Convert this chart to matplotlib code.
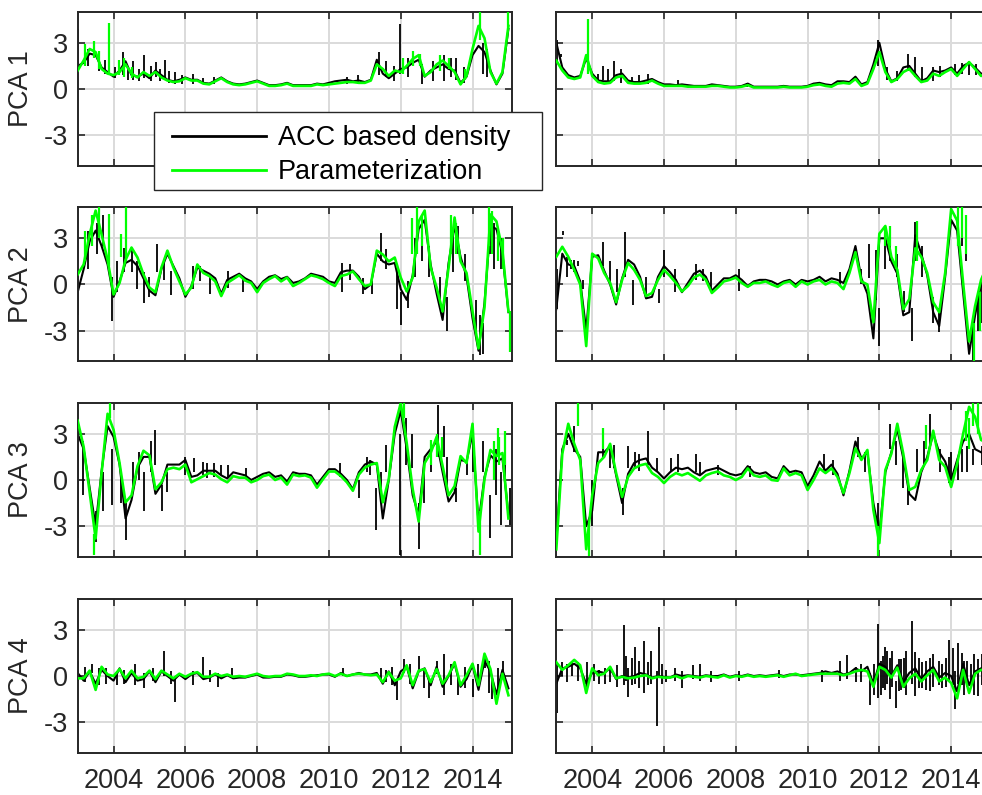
import numpy as np
import matplotlib
matplotlib.use('Agg')
import matplotlib.pyplot as plt
from matplotlib.lines import Line2D
from matplotlib.patches import Rectangle

plt.rcParams['font.family'] = ['Liberation Sans', 'DejaVu Sans']

# sample times: one value every two months, 2003.0 .. 2015.0
t = 2003 + np.arange(73) / 6.0

tick_years = [2004, 2006, 2008, 2010, 2012, 2014]
y_ticks = [-3, 0, 3]
row_names = ['PCA 1', 'PCA 2', 'PCA 3', 'PCA 4']
series_names = ['ACC based density', 'Parameterization']

# ---- PCA 1 ----
acc_1L = [1.5,1.7,2.3,2.2,1.4,1.1,0.8,1.2,1.8,0.9,
          0.8,1.0,0.7,1.2,0.9,0.6,0.5,0.6,0.75,0.6,
          0.6,0.4,0.35,0.55,0.75,0.5,0.35,0.3,0.35,0.45,
          0.55,0.4,0.25,0.25,0.3,0.4,0.25,0.25,0.25,0.25,
          0.35,0.3,0.4,0.5,0.55,0.6,0.5,0.55,0.45,0.6,
          1.9,1.0,0.7,1.0,1.3,1.4,1.7,1.9,0.8,1.2,
          1.4,1.6,1.3,1.2,0.4,0.8,2.2,2.8,2.4,1.2,
          0.3,1.0,3.9]
par_1L = [1.2,1.85,2.6,2.4,1.3,1.0,0.9,1.1,1.6,1.0,
          0.75,1.1,0.85,1.1,0.75,0.55,0.45,0.5,0.7,0.55,
          0.55,0.35,0.3,0.5,0.7,0.45,0.3,0.25,0.3,0.4,
          0.5,0.35,0.2,0.2,0.25,0.35,0.2,0.2,0.2,0.2,
          0.3,0.25,0.3,0.35,0.4,0.45,0.45,0.4,0.4,0.55,
          1.6,1.3,0.85,1.2,1.1,1.5,1.95,2.2,0.85,1.1,
          1.6,1.85,1.5,1.1,0.3,0.85,2.6,4.1,3.3,1.1,
          0.35,1.1,4.1]
# spikes: (year, low, high)
spk_acc_1L = [(2003.02,1.2,3.9),(2003.3,1.5,2.6),(2003.6,1.2,2.2),(2003.75,1.0,1.9),
              (2004.05,0.7,1.4),(2004.25,0.9,2.4),(2004.4,0.6,1.5),(2004.55,0.6,1.8),
              (2004.7,0.5,1.3),(2004.85,0.7,2.2),(2005.05,0.5,1.5),(2005.18,0.8,1.75),
              (2005.3,0.5,1.3),(2005.43,0.6,1.9),(2005.55,0.4,1.2),(2005.7,0.3,1.1),
              (2005.9,0.3,0.9),(2006.2,0.3,1.0),(2006.5,0.3,0.7),(2006.8,0.3,0.8),
              (2010.5,0.3,0.8),(2010.8,0.3,0.9),(2011.4,0.9,2.4),(2011.6,0.8,1.8),
              (2011.8,0.5,1.5),(2011.98,1.0,4.2),(2012.2,0.8,2.0),(2012.6,0.3,1.6),
              (2012.9,0.5,1.8),(2013.2,0.5,2.2),(2013.4,0.8,2.0),(2013.55,0.6,2.0),
              (2013.75,0.4,1.4),(2014.3,1.0,3.0),(2014.4,0.8,2.6)]
spk_par_1L = [(2003.2,1.5,2.9),(2003.45,2.0,3.1),(2003.6,1.3,2.5),(2003.87,1.0,4.3),
              (2004.15,0.9,1.9),(2004.3,0.8,2.0),(2004.5,0.7,1.4),(2012.05,1.0,2.0),
              (2012.35,1.5,2.5),(2012.55,1.5,2.3),(2013.1,1.2,2.2),(2013.35,1.3,2.0),
              (2013.8,0.6,1.3),(2014.2,3.2,5.0),(2015.0,4.0,5.0)]

acc_1R = [3.0,1.4,0.9,0.75,0.85,2.0,1.0,0.55,0.5,0.5,
          0.9,1.0,0.55,0.45,0.45,0.55,0.65,0.45,0.3,0.3,
          0.25,0.3,0.25,0.2,0.2,0.2,0.3,0.25,0.2,0.15,
          0.15,0.2,0.35,0.15,0.15,0.15,0.15,0.15,0.2,0.15,
          0.15,0.15,0.2,0.35,0.4,0.3,0.25,0.5,0.5,0.45,
          0.8,0.3,0.45,1.6,3.0,1.3,0.5,0.7,1.4,1.5,
          1.0,0.5,0.7,1.2,1.1,1.2,1.4,1.0,1.5,1.7,
          1.4,1.0,1.0]
par_1R = [1.85,1.2,0.75,0.65,0.75,2.2,0.85,0.45,0.35,0.4,
          0.75,0.85,0.4,0.35,0.35,0.4,0.55,0.35,0.2,0.2,
          0.2,0.2,0.15,0.15,0.15,0.15,0.2,0.2,0.15,0.1,
          0.1,0.15,0.25,0.1,0.1,0.1,0.1,0.1,0.15,0.1,
          0.1,0.1,0.15,0.25,0.3,0.2,0.15,0.35,0.4,0.35,
          0.65,0.2,0.35,1.3,2.4,1.1,0.45,0.65,1.1,1.3,
          0.85,0.45,0.55,1.0,0.85,1.1,1.3,0.85,1.3,1.75,
          1.3,0.85,0.9]
spk_acc_1R = [(2003.02,1.8,3.2),(2003.12,2.1,2.3),(2004.15,0.4,1.0),(2004.3,0.6,1.5),
              (2004.45,0.4,1.3),(2004.6,0.5,1.8),(2004.8,0.4,1.3),(2005.1,0.3,0.8),
              (2005.3,0.3,0.9),(2005.55,0.3,1.0),(2006.4,0.2,0.6),(2008.3,0.1,0.4),
              (2011.95,1.5,3.2),(2012.2,0.6,1.4),(2012.5,0.5,1.2),(2012.8,1.2,2.3),
              (2013.0,0.8,2.05),(2013.2,0.6,1.4),(2013.5,0.5,1.4),(2013.7,0.8,1.5),
              (2014.1,0.9,1.6),(2014.3,1.0,1.7),(2014.5,0.9,1.8),(2014.7,0.9,1.6)]
spk_par_1R = [(2003.87,1.0,4.55)]

# ---- PCA 2 ----
acc_2L = [-0.5,1.0,2.8,3.5,2.5,1.3,-0.8,0.2,1.4,1.6,
          1.2,0.4,-0.4,-0.7,1.0,2.0,1.2,0.4,-0.8,-0.1,
          1.1,0.9,0.7,0.4,-0.6,0.3,0.5,0.7,0.4,0.2,
          -0.3,0.2,0.5,0.6,0.35,0.5,0.1,0.2,0.4,0.7,
          0.6,0.5,0.2,0.1,0.8,0.9,0.9,0.5,-0.3,0.0,
          2.0,1.5,1.3,1.4,-0.3,-1.0,0.6,3.6,4.2,1.3,
          -0.6,-2.3,1.4,3.8,1.8,0.5,-2.2,-4.3,-1.2,3.8,
          3.6,2.0,-1.8]
par_2L = [0.65,1.3,3.25,4.8,3.25,1.6,-0.65,0.1,1.6,2.4,
          1.75,0.65,-0.2,-0.5,1.1,2.2,1.1,0.2,-0.65,-0.2,
          1.3,0.75,0.55,0.2,-0.75,0.1,0.35,0.6,0.25,0.1,
          -0.5,0.1,0.35,0.55,0.2,0.45,-0.1,0.1,0.35,0.6,
          0.5,0.35,0.1,-0.1,0.55,0.65,0.85,0.35,-0.1,0.0,
          2.2,1.95,1.5,1.75,0.45,-0.45,0.45,4.1,4.8,1.1,
          -0.2,-1.75,1.1,4.35,1.5,0.75,-1.75,-4.15,-1.5,4.55,
          4.1,2.2,-1.75]
spk_acc_2L = [(2003.02,-2.0,0.6),(2003.3,1.0,3.5),(2003.55,2.0,4.0),(2003.7,2.5,4.5),
              (2003.95,-2.4,0.5),(2004.1,-0.5,1.5),(2004.3,0.8,2.4),(2004.5,0.8,2.3),
              (2004.65,-0.3,1.5),(2004.85,-1.2,0.8),(2005.0,-0.8,0.5),(2005.2,0.8,2.65),
              (2005.4,0.3,1.6),(2005.6,-0.7,0.9),(2006.2,-0.3,1.2),(2006.4,0.2,1.2),
              (2006.7,-0.6,0.7),(2007.2,-0.2,0.9),(2007.6,-0.5,0.5),(2010.35,-0.5,1.4),
              (2010.6,0.3,1.3),(2010.95,-0.6,0.4),(2011.2,-0.6,0.2),(2011.45,1.5,3.35),
              (2011.6,1.0,2.3),(2011.9,-1.6,1.0),(2012.0,-2.6,-0.5),(2012.2,-1.5,0.2),
              (2012.4,0.5,3.0),(2012.6,1.5,3.5),(2012.8,0.5,2.5),(2013.1,-1.0,0.5),
              (2013.3,-3.0,-0.8),(2013.45,0.8,3.5),(2013.6,2.0,3.8),(2013.8,0.2,2.0),
              (2014.1,-3.5,-1.0),(2014.2,-4.6,-2.0),(2014.3,-4.5,-2.5),(2014.5,2.0,4.5),
              (2014.6,1.0,4.0),(2014.8,1.0,3.0)]
spk_par_2L = [(2003.2,1.5,3.5),(2003.4,2.5,4.5),(2003.6,3.0,5.0),(2003.87,1.2,4.6),
              (2004.2,1.8,3.3),(2004.35,1.5,5.0),(2012.3,2.0,4.3),(2012.45,2.0,5.0),
              (2012.6,2.5,4.5),(2013.4,2.0,4.5),(2013.55,2.0,4.0),(2014.45,2.5,5.0),
              (2014.55,2.0,4.8),(2014.7,1.5,3.5),(2014.85,1.0,3.0),(2015.05,-4.4,-1.75)]

acc_2R = [-1.6,2.0,1.3,1.2,0.2,-3.0,1.8,1.9,0.9,0.0,
          -1.3,0.4,1.6,1.3,0.5,-0.9,-0.8,0.5,1.2,0.8,
          0.3,-0.5,0.1,0.7,0.9,0.5,-0.4,0.0,0.4,0.4,
          0.6,0.3,-0.1,0.2,0.3,0.3,0.2,0.0,0.2,0.3,
          0.0,0.3,0.2,0.3,0.5,0.2,0.4,0.3,0.1,1.0,
          2.5,0.4,-0.6,-3.5,3.0,3.0,1.5,0.7,-2.0,-1.8,
          3.2,2.0,0.6,-1.8,-2.7,0.5,4.2,3.5,-0.5,-4.5,
          -2.0,0.0,1.0]
par_2R = [1.8,2.45,1.8,0.95,0.0,-4.0,2.0,1.7,0.75,0.1,
          -1.15,0.3,1.4,0.95,0.3,-0.75,-0.55,0.3,0.95,0.55,
          0.1,-0.45,-0.1,0.45,0.65,0.3,-0.55,-0.2,0.2,0.3,
          0.45,0.1,-0.15,0.1,0.1,0.2,0.0,-0.15,0.1,0.2,
          -0.15,0.2,0.0,0.2,0.3,0.0,0.2,0.1,-0.3,0.75,
          2.1,0.2,0.0,-2.45,3.3,3.8,1.8,0.95,-1.6,-0.95,
          2.35,1.8,0.75,-1.15,-1.8,0.75,4.9,4.15,0.1,-3.7,
          -1.4,0.3,1.2]
spk_acc_2R = [(2003.02,-1.6,1.0),(2003.2,3.2,3.5),(2003.3,0.5,1.8),(2003.4,1.0,1.6),
              (2003.5,0.8,1.6),(2003.6,1.2,1.5),(2003.75,-0.3,0.3),(2004.3,1.2,2.75),
              (2004.5,0.0,1.5),(2004.7,-0.5,1.0),(2004.9,0.5,3.4),(2005.15,-1.3,0.3),
              (2005.5,-0.8,0.5),(2005.85,-1.2,-0.3),(2006.0,0.5,2.25),(2006.3,-0.5,1.0),
              (2006.9,0.3,1.3),(2007.1,0.2,1.0),(2007.3,-0.3,0.8),(2008.1,-0.4,1.0),
              (2010.9,-0.1,0.8),(2011.5,0.0,1.0),(2011.7,0.4,2.65),(2011.9,-1.0,2.25),
              (2012.0,-4.0,-1.5),(2012.15,1.0,3.2),(2012.3,1.5,3.5),(2012.5,0.5,2.0),
              (2012.7,-1.8,-0.4),(2012.9,-3.7,-1.5),(2013.0,1.5,4.05),(2013.2,0.5,2.5),
              (2013.5,-2.5,-0.8),(2013.65,-3.1,-1.5),(2014.3,2.5,4.5),(2014.4,1.5,4.0),
              (2014.6,-5.0,-2.5),(2014.75,-3.0,-0.5),(2014.85,-2.5,0.0)]
spk_par_2R = [(2012.15,2.5,3.8),(2012.3,2.5,3.8),(2012.45,1.0,2.5),(2013.05,1.5,4.1),
              (2014.2,2.5,5.0),(2014.3,3.0,5.0),(2014.4,2.0,4.5),(2014.65,-5.0,-2.5),
              (2014.8,-3.0,-0.5)]

# ---- PCA 3 ----
acc_3L = [3.0,2.0,-0.5,-3.0,0.6,3.5,2.8,1.0,-2.5,-1.3,
          0.8,1.5,1.5,-0.9,-0.3,1.0,1.0,1.0,1.3,0.2,
          0.3,0.6,0.6,0.6,0.3,0.1,0.5,0.4,0.3,0.0,
          0.2,0.4,0.5,0.2,0.3,-0.1,0.5,0.4,0.4,0.3,
          -0.3,0.2,0.7,0.7,0.4,0.0,-0.6,0.5,1.0,1.2,
          1.0,-2.5,0.0,3.0,4.5,2.0,-1.0,-2.3,1.5,2.0,
          2.5,0.5,-1.4,-0.8,1.3,1.2,3.0,-2.8,0.2,1.6,
          1.2,1.4,-2.2]
par_3L = [3.85,2.15,-0.8,-3.8,0.45,4.3,3.25,1.1,-1.45,-1.0,
          0.9,1.9,1.6,-0.6,-0.15,0.7,0.8,0.7,1.0,-0.15,
          0.05,0.25,0.45,0.35,0.05,-0.15,0.25,0.15,0.15,-0.15,
          0.0,0.25,0.35,0.0,0.15,-0.3,0.35,0.25,0.3,0.15,
          -0.5,0.05,0.55,0.55,0.25,-0.15,-0.7,0.35,0.8,1.0,
          1.1,-1.45,0.05,3.45,5.0,2.4,-0.6,-2.7,1.1,1.75,
          2.8,0.9,-1.0,-0.4,1.55,1.1,3.65,-3.35,0.05,1.95,
          1.55,1.75,-2.5]
spk_acc_3L = [(2003.02,-3.8,3.0),(2003.15,-1.0,2.5),(2003.5,-4.0,-2.0),(2003.7,-2.0,0.5),
              (2003.95,-1.65,2.0),(2004.2,-1.5,0.5),(2004.35,-3.9,-1.5),(2004.55,-0.5,1.2),
              (2004.7,0.0,1.8),(2004.85,-2.0,0.5),(2005.05,0.5,2.5),(2005.15,1.0,3.25),
              (2005.35,-2.0,-0.3),(2005.5,-0.8,0.5),(2006.0,0.3,1.5),(2006.25,0.5,1.4),
              (2006.5,0.3,1.2),(2006.6,0.1,1.1),(2006.8,0.2,1.1),(2007.0,0.3,1.0),
              (2007.2,0.1,1.0),(2007.7,0.1,0.8),(2010.3,0.2,1.1),(2010.85,-1.2,0.0),
              (2011.05,0.5,1.5),(2011.15,0.3,1.3),(2011.3,-3.25,-0.5),(2011.45,-1.5,0.5),
              (2011.6,0.5,2.3),(2011.98,-4.9,3.0),(2012.15,1.0,4.0),(2012.3,0.8,3.0),
              (2012.5,-4.5,-1.5),(2012.65,-1.5,1.0),(2012.85,0.5,2.0),(2013.05,1.5,4.9),
              (2013.2,1.5,3.5),(2013.3,-0.5,1.5),(2013.55,-1.4,-0.5),(2013.85,0.3,1.2),
              (2014.0,0.5,3.5),(2014.3,0.5,2.5),(2014.5,-3.8,-1.0),(2014.65,-1.0,2.0),
              (2014.8,-2.95,0.5),(2014.9,0.0,2.0),(2015.05,-2.9,-0.5)]
spk_par_3L = [(2003.45,-4.9,-3.5),(2003.9,4.0,5.0),(2012.1,4.0,5.0),(2012.85,1.0,2.6),
              (2013.0,1.5,3.0),(2013.15,1.5,2.8),(2014.2,-4.9,-2.0),(2014.6,0.0,2.5),
              (2014.7,1.5,3.4),(2014.75,1.0,2.8),(2014.9,1.0,3.2)]

acc_3R = [-4.0,2.0,3.0,2.0,1.5,-3.0,-2.0,1.8,1.8,2.2,
          0.3,-1.5,0.4,1.1,1.3,1.4,0.8,0.5,0.1,0.5,
          0.8,0.7,0.8,0.5,0.3,0.6,0.7,0.8,0.6,0.4,
          0.3,0.4,0.9,0.5,0.4,0.5,0.2,0.1,0.9,0.5,
          0.6,0.5,-0.4,0.3,1.2,0.6,1.0,0.4,-1.0,0.6,
          2.5,1.4,1.8,-1.5,-3.5,0.5,1.8,3.3,1.4,-0.9,
          -1.3,0.5,1.5,3.0,1.8,1.2,0.0,1.3,2.5,3.0,
          2.0,1.8,1.7]
par_3R = [-4.5,1.7,3.65,2.35,1.3,-4.5,-1.0,1.1,1.5,2.35,
          0.45,-1.1,0.2,0.75,0.95,1.05,0.45,0.2,-0.2,0.2,
          0.45,0.3,0.45,0.2,-0.05,0.3,0.45,0.55,0.3,0.2,
          0.0,0.2,0.75,0.3,0.2,0.3,0.0,-0.05,0.75,0.3,
          0.45,0.3,-0.65,0.0,0.75,0.45,0.75,0.2,-0.85,0.45,
          2.05,1.3,1.95,-1.95,-4.1,0.65,1.7,3.65,1.7,-0.65,
          -0.45,0.65,1.3,3.2,1.3,0.85,-0.45,1.05,3.0,4.75,
          4.1,2.6,2.4]
spk_acc_3R = [(2003.3,2.3,2.6),(2003.5,1.8,3.5),(2004.0,-3.0,0.0),(2004.3,1.5,3.1),
              (2004.5,0.8,2.0),(2004.6,0.8,2.3),(2004.85,-2.25,-0.5),(2005.0,0.8,2.2),
              (2005.2,0.8,1.8),(2005.3,0.6,1.7),(2005.55,1.0,3.2),(2005.8,0.5,1.4),
              (2006.2,0.5,1.4),(2006.4,0.5,1.7),(2006.9,0.5,1.7),(2007.0,0.4,1.2),
              (2007.5,0.3,1.0),(2008.4,0.2,0.9),(2010.45,0.5,1.7),(2010.7,0.3,1.3),
              (2011.4,1.5,2.8),(2011.6,0.5,1.8),(2011.95,-3.65,-1.5),(2012.3,2.0,3.65),
              (2012.45,1.0,2.5),(2012.65,-0.5,1.5),(2012.8,-1.6,-0.3),(2013.05,0.5,2.0),
              (2013.25,1.0,2.5),(2013.4,2.0,4.3),(2013.7,0.5,2.0),(2013.95,-0.2,1.5),
              (2014.0,0.0,1.8),(2014.2,0.0,1.5),(2014.3,0.5,2.0),(2014.45,0.5,2.2),
              (2014.6,1.0,2.0),(2014.85,1.0,2.2)]
spk_par_3R = [(2003.6,3.5,5.0),(2003.9,-4.95,-3.0),(2004.3,2.0,3.35),(2011.95,-4.95,-3.0),
              (2013.3,2.0,3.6),(2014.4,2.5,4.5),(2014.5,2.0,4.0),(2014.6,3.5,5.0),
              (2014.75,3.0,5.0),(2014.9,2.0,4.2)]

# ---- PCA 4 ----
acc_4L = [0.2,-0.3,0.3,-0.5,0.4,0.0,-0.3,0.5,-0.4,0.2,
          -0.3,-0.2,0.3,-0.4,0.3,0.0,-0.3,0.1,-0.2,0.1,
          0.2,-0.2,-0.1,0.1,-0.15,0.05,-0.15,-0.1,-0.1,0.0,
          0.1,-0.1,-0.1,-0.05,-0.05,0.1,0.05,-0.05,-0.05,0.0,
          0.05,0.1,0.1,-0.05,0.2,0.0,0.1,0.2,0.1,0.1,
          0.2,-0.5,0.3,-0.6,0.3,0.6,-0.8,0.3,0.5,-0.6,
          0.6,-0.7,0.0,0.8,-0.7,-0.2,0.7,-0.9,1.0,0.3,
          -1.2,0.4,-0.8]
par_4L = [-0.15,-0.15,0.35,-0.9,0.6,0.1,0.0,0.45,-0.15,0.35,
          -0.15,-0.05,0.35,-0.2,0.35,0.1,-0.15,0.15,-0.05,0.15,
          0.25,-0.05,-0.05,0.15,0.0,0.1,-0.05,0.0,-0.05,0.05,
          0.15,0.0,-0.05,0.0,0.0,0.15,0.1,0.0,0.0,0.05,
          0.0,0.1,0.15,0.0,0.15,0.0,0.1,0.15,0.1,0.05,
          0.1,-0.4,0.25,-0.3,-0.15,0.7,-0.6,0.35,0.45,-0.4,
          0.45,-0.5,0.05,0.9,-0.6,0.05,0.8,-0.6,1.45,0.45,
          -1.8,0.15,-1.25]
spk_acc_4L = [(2003.02,-0.3,1.0),(2003.2,-0.4,0.6),(2003.4,0.2,0.8),(2003.6,-0.6,0.5),
              (2003.8,-0.5,0.5),(2004.1,-0.6,0.3),(2004.3,-0.5,0.4),(2004.6,-0.6,0.8),
              (2004.85,-0.8,0.2),(2005.1,-0.3,0.5),(2005.4,0.0,1.65),(2005.6,-0.5,0.3),
              (2005.7,-1.7,-0.2),(2006.2,-0.6,0.3),(2006.5,0.0,1.25),(2006.7,-0.4,0.4),
              (2006.9,-0.7,0.2),(2007.3,-0.1,0.55),(2010.4,0.0,0.5),(2011.45,-0.3,0.5),
              (2011.6,-0.4,0.4),(2011.75,-0.6,0.6),(2011.9,-1.55,-0.2),(2012.1,0.2,1.1),
              (2012.25,-0.5,0.8),(2012.5,0.3,1.3),(2012.65,-0.8,0.5),(2012.8,-1.45,-0.3),
              (2013.0,0.1,1.0),(2013.2,-1.2,1.45),(2013.4,-0.6,0.8),(2013.6,-1.2,0.0),
              (2013.8,-0.8,0.6),(2014.0,-1.35,-0.2),(2014.15,-0.8,0.8),(2014.35,0.5,1.45),
              (2014.45,-1.1,1.0),(2014.55,-1.5,0.0),(2014.7,-1.0,0.5),(2014.85,0.0,1.0)]
spk_par_4L = []

acc_4R = [-0.5,0.5,0.6,0.8,0.5,-0.5,0.2,0.3,0.2,0.5,
          -0.2,0.0,-0.1,0.0,0.2,0.1,-0.1,0.0,-0.05,-0.1,
          0.1,0.0,0.05,0.0,-0.05,0.05,0.0,0.0,0.1,-0.05,
          0.05,0.0,0.1,0.0,0.05,0.0,0.05,0.1,0.0,0.1,
          0.1,0.05,0.1,0.15,0.2,0.3,0.2,0.3,0.1,0.2,
          0.5,0.3,0.6,-0.5,0.8,0.6,0.0,0.7,-0.4,0.2,
          0.5,-0.2,0.3,0.6,-0.1,0.2,0.0,-1.0,0.8,-0.6,
          0.3,0.5,0.3]
par_4R = [0.9,0.4,0.7,1.05,0.7,-1.1,0.5,0.05,0.15,0.6,
          -0.15,-0.05,-0.15,-0.1,0.0,0.05,-0.15,-0.05,-0.1,-0.1,
          0.0,-0.15,0.0,-0.05,-0.1,0.0,-0.05,-0.1,0.05,-0.1,
          0.0,-0.05,0.05,-0.05,0.0,-0.05,0.0,0.05,-0.05,0.05,
          0.15,0.0,0.05,0.1,0.15,0.15,0.15,0.15,0.05,0.15,
          0.3,0.4,0.3,-0.7,0.6,0.4,-0.1,0.55,-0.7,-0.15,
          0.15,-0.35,0.05,0.4,-0.35,-0.1,-0.45,-1.45,0.4,-1.1,
          0.15,0.4,0.4]
spk_acc_4R = [(2003.02,-2.4,0.8),(2003.15,0.0,0.9),(2003.3,-0.4,0.8),(2003.45,0.0,1.0),
              (2003.6,-0.3,0.9),(2003.85,-0.8,0.9),(2004.05,-0.3,0.8),(2004.2,-0.5,0.4),
              (2004.35,-0.5,0.5),(2004.5,-0.4,0.6),(2004.7,-0.7,0.7),(2004.88,-0.6,3.3),
              (2004.95,-0.3,1.3),(2005.0,-1.35,0.5),(2005.1,-0.6,1.2),(2005.2,-0.5,1.9),
              (2005.3,-0.8,1.0),(2005.45,-1.1,2.3),(2005.55,-0.6,0.9),(2005.65,-0.5,1.6),
              (2005.8,-3.25,0.3),(2005.85,0.0,3.2),(2005.95,-0.5,0.8),(2006.05,-0.4,0.4),
              (2006.3,-0.3,0.5),(2006.5,-0.8,0.3),(2006.8,-0.2,0.7),(2007.0,-0.3,0.8),
              (2007.3,-0.4,0.3),(2008.1,-0.3,0.3),(2009.2,-0.1,0.4),(2010.4,-0.4,0.4),
              (2010.9,-0.3,1.0),(2011.1,-0.2,1.35),(2011.35,-0.4,0.6),(2011.5,-0.4,0.8),
              (2011.75,-1.85,0.2),(2011.85,-1.2,0.8),(2011.95,-1.4,3.4),(2012.05,-1.2,1.0),
              (2012.1,-0.8,1.3),(2012.15,-0.9,1.9),(2012.2,-0.5,1.6),(2012.3,-1.5,1.2),
              (2012.35,-0.7,1.6),(2012.45,-2.1,-0.3),(2012.55,-1.0,1.1),(2012.6,-0.9,1.1),
              (2012.7,-0.8,1.2),(2012.75,-1.2,1.6),(2012.9,-0.5,3.6),(2013.0,-1.3,1.55),
              (2013.1,-0.8,1.2),(2013.2,-0.8,0.9),(2013.3,-0.9,1.0),(2013.4,-1.0,1.2),
              (2013.5,-0.7,1.4),(2013.65,-0.6,1.0),(2013.75,-0.8,0.8),(2013.85,-0.7,1.2),
              (2013.95,-0.3,2.35),(2014.05,-0.6,1.8),(2014.1,-2.15,0.3),(2014.2,-0.5,2.15),
              (2014.3,-0.6,1.5),(2014.35,-1.2,1.0),(2014.45,-0.7,1.0),(2014.55,-0.6,0.8),
              (2014.65,-1.2,1.4),(2014.75,-1.3,1.1),(2014.85,-0.6,1.4),(2014.95,-0.8,1.2)]
spk_par_4R = []

panels = [[(acc_1L, par_1L, spk_acc_1L, spk_par_1L), (acc_1R, par_1R, spk_acc_1R, spk_par_1R)],
          [(acc_2L, par_2L, spk_acc_2L, spk_par_2L), (acc_2R, par_2R, spk_acc_2R, spk_par_2R)],
          [(acc_3L, par_3L, spk_acc_3L, spk_par_3L), (acc_3R, par_3R, spk_acc_3R, spk_par_3R)],
          [(acc_4L, par_4L, spk_acc_4L, spk_par_4L), (acc_4R, par_4R, spk_acc_4R, spk_par_4R)]]

GREEN = (0, 1, 0)
DARK = (0.15, 0.15, 0.15)
FS = 19.5

fig = plt.figure(figsize=(9.82, 7.95), dpi=100)

# axes layout in figure fractions (right column runs past the edge, like the original)
lefts = [0.0791, 0.5665]
width = 0.4423
bottoms = [0.7912, 0.5453, 0.2994, 0.0528]
height = 0.1937


def draw_spikes(ax, spikes, color, lw, z):
	if not spikes:
		return
	xs = [s[0] for s in spikes]
	lo = [s[1] for s in spikes]
	hi = [s[2] for s in spikes]
	ax.vlines(xs, lo, hi, color=color, lw=lw, zorder=z)


for r in range(4):
	for c in range(2):
		ax = fig.add_axes([lefts[c], bottoms[r], width, height])
		acc, par, sa, sp = panels[r][c]
		ax.plot(t, acc, color='k', lw=1.5, zorder=2)
		draw_spikes(ax, sa, 'k', 1.3, 2)
		ax.plot(t, par, color=GREEN, lw=1.9, zorder=3)
		draw_spikes(ax, sp, GREEN, 1.6, 3)

		ax.set_xlim(2003.0, 2015.1)
		ax.set_ylim(-5, 5)
		ax.set_xticks(tick_years)
		ax.set_yticks(y_ticks)
		ax.set_xticklabels([str(y) for y in tick_years])
		ax.set_yticklabels([str(v) for v in y_ticks])
		ax.grid(True, color=(0.86, 0.86, 0.86), lw=1.4)
		ax.set_axisbelow(True)
		ax.tick_params(direction='in', top=True, right=True, length=5, width=1.2,
		               colors=DARK, labelsize=FS)
		ax.tick_params(axis='x', pad=10.5)
		ax.tick_params(axis='y', pad=7)
		for sp_ in ax.spines.values():
			sp_.set_color(DARK)
			sp_.set_linewidth(1.4)
		if c == 0:
			ax.set_ylabel(row_names[r], fontsize=FS, color=DARK)
			ax.yaxis.set_label_coords(-0.1, 0.5)
		else:
			ax.tick_params(labelleft=False)
		if r < 3:
			ax.tick_params(labelbottom=False)

# legend: frame drawn by hand so the padding matches
W, H = 982.0, 795.0
frame = Rectangle((154 / W, 1 - 190 / H), (542 - 154) / W, (190 - 112) / H,
                  transform=fig.transFigure, facecolor='white', edgecolor=DARK,
                  lw=1.0, zorder=4)
fig.add_artist(frame)
handles = [Line2D([], [], color='k', lw=2), Line2D([], [], color=GREEN, lw=2)]
leg = fig.legend(handles, series_names, loc='upper left',
                 bbox_to_anchor=(171.7 / W, 1 - 125 / H), frameon=False,
                 fontsize=FS, handlelength=3.5, handletextpad=0.42,
                 labelspacing=0.3, borderpad=0, borderaxespad=0)
leg.set_zorder(5)

fig.savefig('out.png', dpi=100)
